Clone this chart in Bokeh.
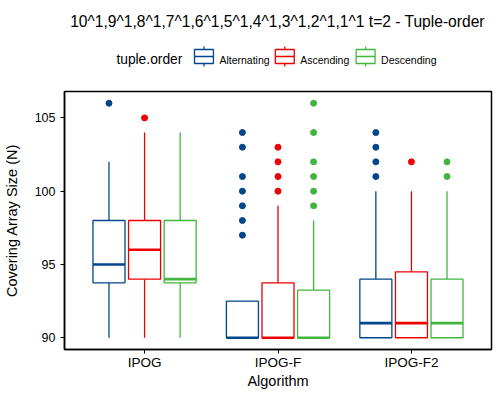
from bokeh.plotting import figure
from bokeh.layouts import column
from bokeh.models import ColumnDataSource, FixedTicker, Range1d
from bokeh.core.properties import value
from bokeh.embed import file_html
from bokeh.resources import INLINE

algorithms = ["IPOG", "IPOG-F", "IPOG-F2"]
orders = ["Alternating", "Ascending", "Descending"]
colors = ["#00468B", "#ED0000", "#42B540"]
title_text = "10^1,9^1,8^1,7^1,6^1,5^1,4^1,3^1,2^1,1^1 t=2 - Tuple-order"
legend_title = "tuple.order"

# box statistics per tuple order, one value per algorithm
alt_low = [90, 90, 90]
alt_q1 = [93.75, 90, 90]
alt_med = [95, 90, 91]
alt_q3 = [98, 92.5, 94]
alt_high = [102, 92.5, 100]
alt_out = [[106], [97, 98, 99, 100, 101, 103, 104], [101, 102, 103, 104]]

asc_low = [90, 90, 90]
asc_q1 = [94, 90, 90]
asc_med = [96, 90, 91]
asc_q3 = [98, 93.75, 94.5]
asc_high = [104, 99, 100]
asc_out = [[105], [100, 101, 102, 103], [102]]

desc_low = [90, 90, 90]
desc_q1 = [93.75, 90, 90]
desc_med = [94, 90, 91]
desc_q3 = [98, 93.25, 94]
desc_high = [104, 98, 100]
desc_out = [[], [99, 100, 101, 102, 104, 106], [101, 102]]

y_ticks = [90, 95, 100, 105]

stats = [
    (alt_low, alt_q1, alt_med, alt_q3, alt_high, alt_out),
    (asc_low, asc_q1, asc_med, asc_q3, asc_high, asc_out),
    (desc_low, desc_q1, desc_med, desc_q3, desc_high, desc_out),
]

FONT = "Liberation Sans"
DODGE = 0.8 / 3
BOXW = DODGE * 0.9
FL, FW, FH = 63, 427, 258
X0, X1 = 0.4, 3.6
Y0, Y1 = 89.2, 106.8
HEAD_H = 89

# ---------------- header: title + legend (page-pixel coordinates; frame aligned with panel) ----------------
head = figure(width=500, height=HEAD_H, x_range=Range1d(FL, FL + FW), y_range=Range1d(HEAD_H, 0),
              x_axis_location=None, y_axis_location=None, min_border=0,
              toolbar_location=None, output_backend="svg")
head.outline_line_color = None
head.grid.visible = False
head.background_fill_color = "white"
head.border_fill_color = "white"

head.text(x=[FL + FW / 2], y=[21], text=[title_text], text_font=value(FONT), text_font_size=value("15.6px"),
          text_align=value("center"), text_baseline=value("alphabetic"), text_color="black")
head.text(x=[115], y=[59], text=[legend_title], text_font=value(FONT), text_font_size=value("13.8px"),
          text_align=value("left"), text_baseline=value("alphabetic"), text_color="black")

KEY_X = [193.3, 274.3, 355.3]
KEY_W = 19
KEY_TOP, KEY_BOT, KEY_MID = 49, 63, 56
WHISK = 3
key_src = ColumnDataSource(dict(
    left=KEY_X, right=[x + KEY_W for x in KEY_X], cx=[x + KEY_W / 2 for x in KEY_X],
    label_x=[x + KEY_W + 6 for x in KEY_X], label=orders, color=colors))
head.quad(left="left", right="right", top=KEY_TOP, bottom=KEY_BOT, source=key_src,
          fill_color="white", line_color="color", line_width=1.3)
head.segment(x0="left", x1="right", y0=KEY_MID, y1=KEY_MID, source=key_src, line_color="color", line_width=1.3)
head.segment(x0="cx", x1="cx", y0=KEY_TOP - WHISK, y1=KEY_TOP, source=key_src, line_color="color", line_width=1.3)
head.segment(x0="cx", x1="cx", y0=KEY_BOT, y1=KEY_BOT + WHISK, source=key_src, line_color="color", line_width=1.3)
head.text(x="label_x", y=59.5, text="label", source=key_src, text_font=value(FONT),
          text_font_size=value("10.5px"), text_align=value("left"), text_baseline=value("alphabetic"),
          text_color="black")

# ---------------- main panel ----------------
p = figure(frame_width=FW, frame_height=FH, output_backend="svg", toolbar_location=None,
           x_range=Range1d(X0, X1), y_range=Range1d(Y0, Y1),
           min_border_left=FL, min_border_right=10, min_border_top=2, min_border_bottom=51)

p.xgrid.visible = False
p.ygrid.visible = False
p.outline_line_color = "black"
p.outline_line_width = 1.5
p.outline_line_alpha = 1
p.background_fill_color = "white"
p.border_fill_color = "white"

for k, order in enumerate(orders):
    low, q1, med, q3, high, out = stats[k]
    xs = [i + 1 + (k - 1) * DODGE for i in range(len(algorithms))]
    src = ColumnDataSource(dict(x=xs, left=[x - BOXW / 2 for x in xs], right=[x + BOXW / 2 for x in xs],
                                low=low, q1=q1, med=med, q3=q3, high=high))
    c = colors[k]
    p.segment(x0="x", y0="q3", x1="x", y1="high", source=src, line_color=c, line_width=1.3)
    p.segment(x0="x", y0="low", x1="x", y1="q1", source=src, line_color=c, line_width=1.3)
    p.quad(left="left", right="right", bottom="q1", top="q3", source=src,
           fill_color="white", line_color=c, line_width=1.3)
    p.segment(x0="left", y0="med", x1="right", y1="med", source=src, line_color=c, line_width=2.6)
    ox, oy = [], []
    for i, vals in enumerate(out):
        for v in vals:
            ox.append(xs[i])
            oy.append(v)
    p.scatter(x=ox, y=oy, size=6, color=c)

for ax in (p.xaxis[0], p.yaxis[0]):
    ax.axis_line_color = "black"
    ax.axis_line_width = 1.5
    ax.major_tick_line_color = "black"
    ax.major_tick_in = 0
    ax.major_tick_out = 4
    ax.minor_tick_line_color = None
    ax.major_label_text_font = FONT
    ax.major_label_text_color = "black"
    ax.axis_label_text_font = FONT
    ax.axis_label_text_font_style = "normal"
    ax.axis_label_text_color = "black"
    ax.axis_label_text_font_size = "14.5px"

p.xaxis.ticker = FixedTicker(ticks=[1, 2, 3])
p.xaxis.major_label_overrides = {1: algorithms[0], 2: algorithms[1], 3: algorithms[2]}
p.xaxis.major_label_text_font_size = "13.5px"
p.xaxis.major_label_standoff = 1
p.xaxis.axis_label = "Algorithm"
p.xaxis.axis_label_standoff = 0

p.yaxis.ticker = FixedTicker(ticks=y_ticks)
p.yaxis.major_label_text_font_size = "12.5px"
p.yaxis.major_label_standoff = 5
p.yaxis.axis_label = "Covering Array Size (N)"
p.yaxis.axis_label_standoff = 12

layout = column(head, p, spacing=0)
open("out.html", "w").write(file_html(layout, INLINE))
